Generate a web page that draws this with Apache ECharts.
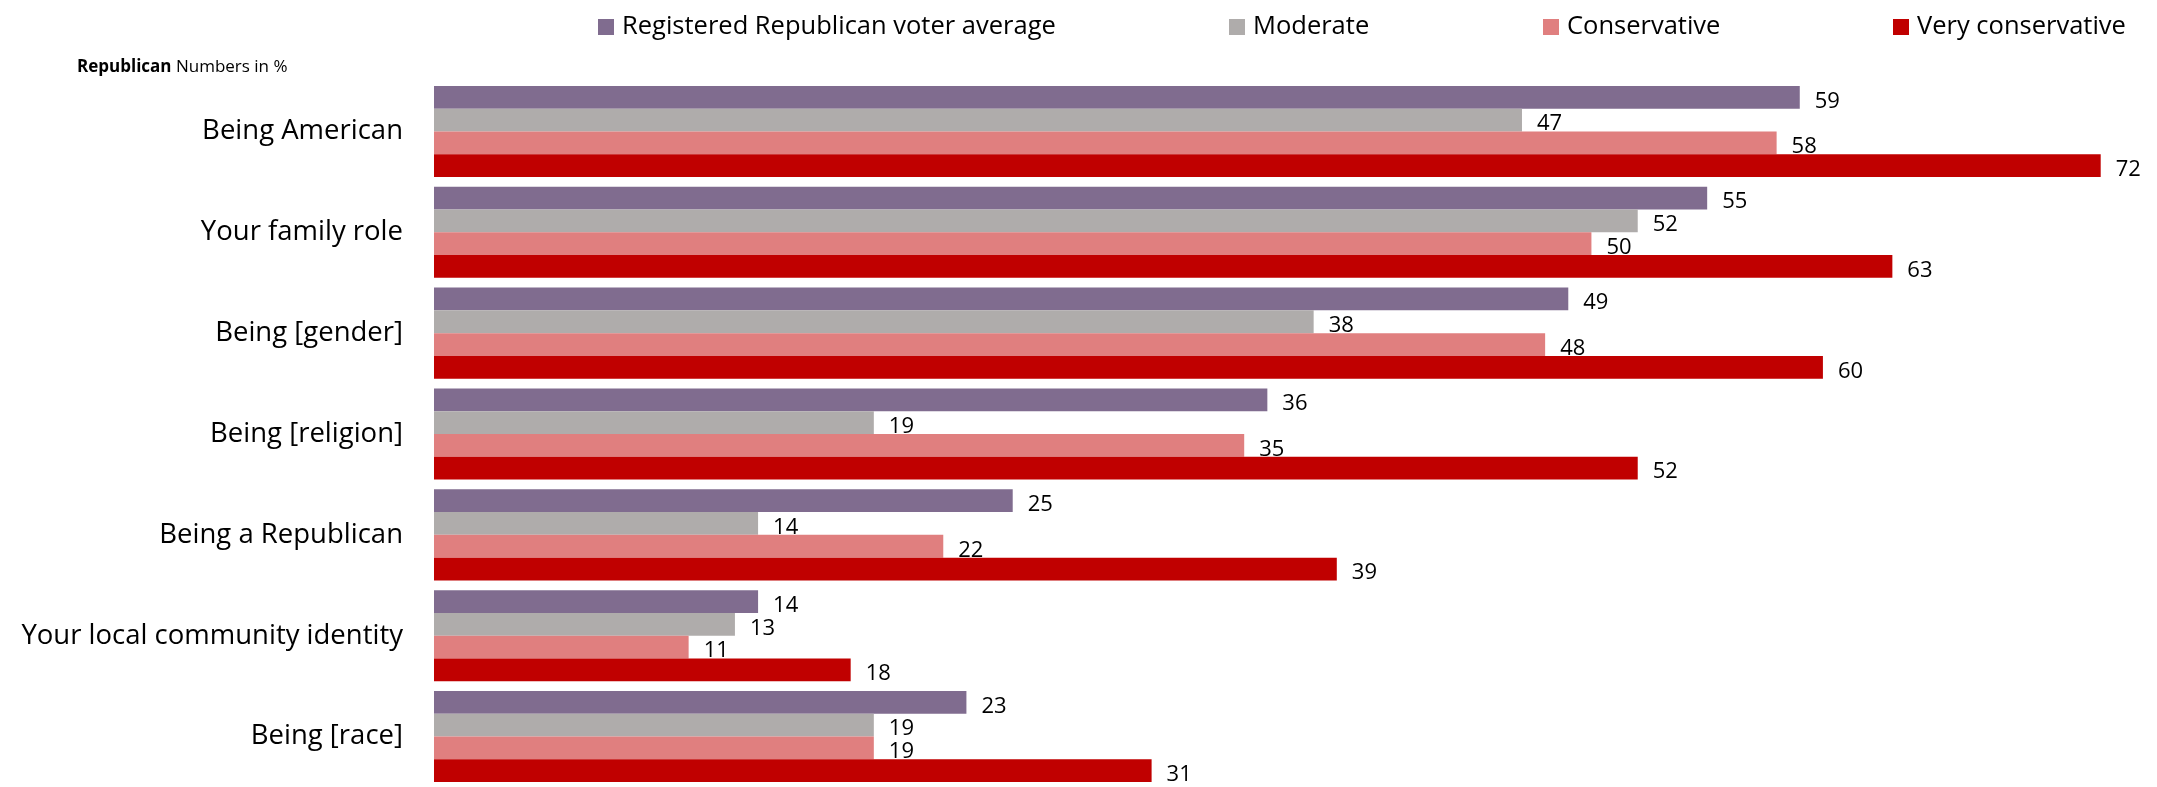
<!DOCTYPE html>
<html>
<head>
<meta charset="utf-8">
<script src="https://cdn.jsdelivr.net/npm/echarts@6/dist/echarts.min.js"></script>
<style>
html,body{margin:0;padding:0;background:#fff;}
#chart{width:2157px;height:787px;}
</style>
</head>
<body>
<div id="chart"></div>
<script>
const categories = ['Being American','Your family role','Being [gender]','Being [religion]','Being a Republican','Your local community identity','Being [race]'];
const seriesNames = ['Registered Republican voter average','Moderate','Conservative','Very conservative'];
const registeredAvg = [59,55,49,36,25,14,23];
const moderate = [47,52,38,19,14,13,19];
const conservative = [58,50,48,35,22,11,19];
const veryConservative = [72,63,60,52,39,18,31];
const colors = ['#806C8F','#AFACAB','#E07F7F','#C00000'];

const FONT = '"Open Sans",sans-serif';
const chart = echarts.init(document.getElementById('chart'));
const values = [registeredAvg, moderate, conservative, veryConservative];
const legendLeft = [593, 1224, 1538, 1888];

chart.setOption({
  animation: false,
  textStyle: {fontFamily: FONT},
  title: {
    text: '{b|Republican} Numbers in %',
    left: 72, top: 54,
    textStyle: {
      fontFamily: FONT, fontSize: 17, fontWeight: 'normal', color: '#000',
      rich: {b: {fontFamily: FONT, fontSize: 17, fontWeight: 'bold', color: '#000'}}
    }
  },
  legend: seriesNames.map((n, i) => ({
    data: [n],
    left: legendLeft[i], top: 9,
    itemWidth: 16, itemHeight: 16, itemGap: 8,
    icon: 'rect',
    textStyle: {fontFamily: FONT, fontSize: 25.5, color: '#000', padding: [0, 0, 0, 3]}
  })),
  grid: {left: 434, right: 10, top: 81, height: 712, containLabel: false},
  xAxis: {type: 'value', min: 0, max: 74, show: false},
  yAxis: {
    type: 'category', data: categories, inverse: true,
    axisLine: {show: false}, axisTick: {show: false},
    axisLabel: {fontFamily: FONT, fontSize: 27.5, color: '#000', margin: 31}
  },
  series: seriesNames.map((n, i) => ({
    name: n, type: 'bar', data: values[i],
    itemStyle: {color: colors[i]},
    barGap: '0%', barCategoryGap: '9.7%',
    label: {show: true, position: 'right', distance: 15, offset: [0, 4],
      fontFamily: FONT, fontSize: 22, color: '#000'}
  }))
});
</script>
</body>
</html>
